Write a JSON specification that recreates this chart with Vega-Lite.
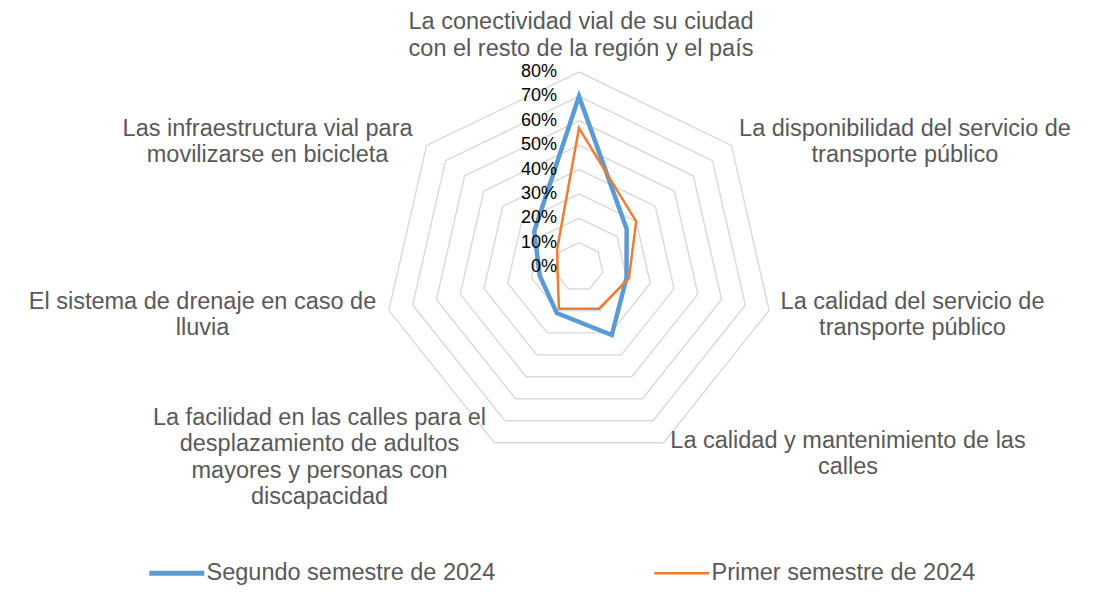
{
  "$schema": "https://vega.github.io/schema/vega-lite/v6.json",
  "width": 1100,
  "height": 615,
  "autosize": {"type": "none"},
  "padding": 0,
  "background": "white",
  "config": {"view": {"stroke": null}, "font": "Liberation Sans"},
  "datasets": {
    "series": [
      {"serie": "Segundo semestre de 2024", "idx": 0, "value": 0.70},
      {"serie": "Segundo semestre de 2024", "idx": 1, "value": 0.25},
      {"serie": "Segundo semestre de 2024", "idx": 2, "value": 0.20},
      {"serie": "Segundo semestre de 2024", "idx": 3, "value": 0.31},
      {"serie": "Segundo semestre de 2024", "idx": 4, "value": 0.21},
      {"serie": "Segundo semestre de 2024", "idx": 5, "value": 0.165},
      {"serie": "Segundo semestre de 2024", "idx": 6, "value": 0.235},
      {"serie": "Primer semestre de 2024", "idx": 0, "value": 0.57},
      {"serie": "Primer semestre de 2024", "idx": 1, "value": 0.30},
      {"serie": "Primer semestre de 2024", "idx": 2, "value": 0.21},
      {"serie": "Primer semestre de 2024", "idx": 3, "value": 0.19},
      {"serie": "Primer semestre de 2024", "idx": 4, "value": 0.19},
      {"serie": "Primer semestre de 2024", "idx": 5, "value": 0.09},
      {"serie": "Primer semestre de 2024", "idx": 6, "value": 0.115}
    ],
    "rings": [
      {"r": 0, "idx": [0, 1, 2, 3, 4, 5, 6]},
      {"r": 0.1, "idx": [0, 1, 2, 3, 4, 5, 6]},
      {"r": 0.2, "idx": [0, 1, 2, 3, 4, 5, 6]},
      {"r": 0.3, "idx": [0, 1, 2, 3, 4, 5, 6]},
      {"r": 0.4, "idx": [0, 1, 2, 3, 4, 5, 6]},
      {"r": 0.5, "idx": [0, 1, 2, 3, 4, 5, 6]},
      {"r": 0.6, "idx": [0, 1, 2, 3, 4, 5, 6]},
      {"r": 0.7, "idx": [0, 1, 2, 3, 4, 5, 6]},
      {"r": 0.8, "idx": [0, 1, 2, 3, 4, 5, 6]}
    ],
    "axes": [
      {"idx": 0, "label": "La conectividad vial de su ciudad\ncon el resto de la región y el país"},
      {"idx": 1, "label": "La disponibilidad del servicio de\ntransporte público"},
      {"idx": 2, "label": "La calidad del servicio de\ntransporte público"},
      {"idx": 3, "label": "La calidad y mantenimiento de las\ncalles"},
      {"idx": 4, "label": "La facilidad en las calles para el\ndesplazamiento de adultos\nmayores y personas con\ndiscapacidad"},
      {"idx": 5, "label": "El sistema de drenaje en caso de\nlluvia"},
      {"idx": 6, "label": "Las infraestructura vial para\nmovilizarse en bicicleta"}
    ]
  },
  "layer": [
    {
      "data": {"name": "rings"},
      "transform": [
        {"filter": "datum.r > 0"},
        {"flatten": ["idx"]},
        {"calculate": "datum.idx * 2 * PI / 7", "as": "theta"},
        {"calculate": "datum.r * sin(datum.theta)", "as": "x"},
        {"calculate": "datum.r * cos(datum.theta)", "as": "y"}
      ],
      "mark": {"type": "line", "interpolate": "linear-closed", "stroke": "#D9D9D9", "strokeWidth": 1.4},
      "encoding": {
        "x": {"field": "x", "type": "quantitative", "scale": {"domain": [-2.3754, 2.1374], "nice": false, "zero": false}, "axis": null},
        "y": {"field": "y", "type": "quantitative", "scale": {"domain": [-1.4277, 1.0954], "nice": false, "zero": false}, "axis": null},
        "detail": {"field": "r", "type": "nominal"},
        "order": {"field": "idx", "type": "quantitative"}
      }
    },
    {
      "data": {"name": "series"},
      "transform": [
        {"filter": "datum.serie == 'Segundo semestre de 2024'"},
        {"calculate": "datum.idx * 2 * PI / 7", "as": "theta"},
        {"calculate": "datum.value * sin(datum.theta)", "as": "x"},
        {"calculate": "datum.value * cos(datum.theta)", "as": "y"}
      ],
      "mark": {"type": "line", "interpolate": "linear-closed", "strokeWidth": 4.5},
      "encoding": {
        "x": {"field": "x", "type": "quantitative", "scale": {"domain": [-2.3754, 2.1374], "nice": false, "zero": false}, "axis": null},
        "y": {"field": "y", "type": "quantitative", "scale": {"domain": [-1.4277, 1.0954], "nice": false, "zero": false}, "axis": null},
        "color": {"field": "serie", "type": "nominal", "scale": {"domain": ["Segundo semestre de 2024", "Primer semestre de 2024"], "range": ["#5B9BD5", "#ED7D31"]},
          "legend": {"orient": "none", "legendX": 165, "legendY": 561, "direction": "horizontal", "title": null, "symbolType": "stroke", "symbolSize": 3025, "symbolStrokeWidth": 4, "labelFont": "Liberation Sans", "labelFontSize": 23.5, "labelColor": "#595959", "labelOffset": 18, "columnPadding": 153, "labelLimit": 600, "padding": 0,
            "encode": {"symbols": {"update": {"strokeWidth": {"signal": "datum.value == 'Segundo semestre de 2024' ? 5 : 2.5"}}}}}},
        "order": {"field": "idx", "type": "quantitative"}
      }
    },
    {
      "data": {"name": "series"},
      "transform": [
        {"filter": "datum.serie == 'Primer semestre de 2024'"},
        {"calculate": "datum.idx * 2 * PI / 7", "as": "theta"},
        {"calculate": "datum.value * sin(datum.theta)", "as": "x"},
        {"calculate": "datum.value * cos(datum.theta)", "as": "y"}
      ],
      "mark": {"type": "line", "interpolate": "linear-closed", "strokeWidth": 2.5},
      "encoding": {
        "x": {"field": "x", "type": "quantitative", "scale": {"domain": [-2.3754, 2.1374], "nice": false, "zero": false}, "axis": null},
        "y": {"field": "y", "type": "quantitative", "scale": {"domain": [-1.4277, 1.0954], "nice": false, "zero": false}, "axis": null},
        "color": {"field": "serie", "type": "nominal", "scale": {"domain": ["Segundo semestre de 2024", "Primer semestre de 2024"], "range": ["#5B9BD5", "#ED7D31"]}},
        "order": {"field": "idx", "type": "quantitative"}
      }
    },
    {
      "data": {"name": "rings"},
      "transform": [
        {"calculate": "0 * datum.r", "as": "x"}
      ],
      "mark": {"type": "text", "align": "right", "baseline": "middle", "dx": -22, "fontSize": 18, "color": "#000000"},
      "encoding": {
        "x": {"field": "x", "type": "quantitative", "scale": {"domain": [-2.3754, 2.1374], "nice": false, "zero": false}, "axis": null},
        "y": {"field": "r", "type": "quantitative", "scale": {"domain": [-1.4277, 1.0954], "nice": false, "zero": false}, "axis": null},
        "text": {"field": "r", "type": "quantitative", "format": ".0%"}
      }
    },
    {
      "data": {"name": "axes"},
      "transform": [
        {"calculate": "datum.idx * 2 * PI / 7", "as": "theta"},
        {"calculate": "0.8 * sin(datum.theta)", "as": "x"},
        {"calculate": "0.8 * cos(datum.theta)", "as": "y"}
      ],
      "mark": {"type": "text", "align": "center", "baseline": "alphabetic", "lineBreak": "\n", "lineHeight": 26.5, "fontSize": 23.5, "color": "#595959",
        "dx": {"expr": "[2, 173.5, 143.4, 184.4, -174.9, -186.4, -159][datum.idx]"},
        "dy": {"expr": "[-43, -9.7, -1.4, 5.3, -17.7, -1.4, -9.7][datum.idx]"}},
      "encoding": {
        "x": {"field": "x", "type": "quantitative", "scale": {"domain": [-2.3754, 2.1374], "nice": false, "zero": false}, "axis": null},
        "y": {"field": "y", "type": "quantitative", "scale": {"domain": [-1.4277, 1.0954], "nice": false, "zero": false}, "axis": null},
        "text": {"field": "label", "type": "nominal"}
      }
    }
  ]
}
